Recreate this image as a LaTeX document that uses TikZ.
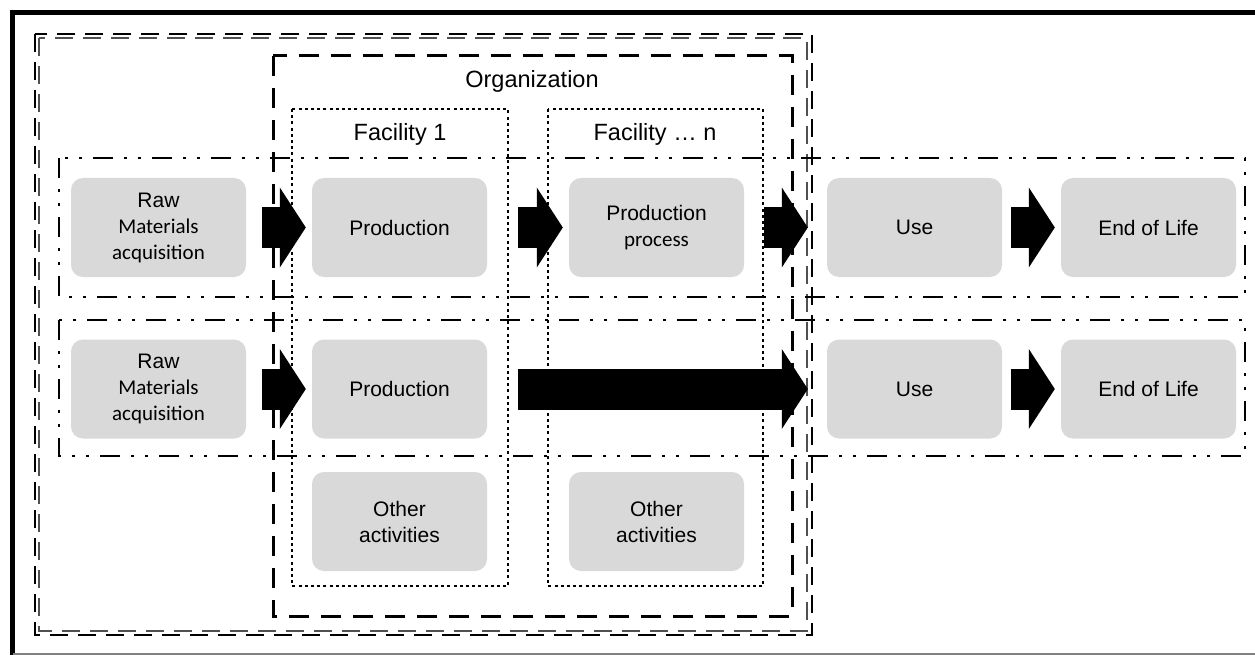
\documentclass[tikz,border=0pt]{standalone}
\usepackage{fontspec}
\setmainfont{Liberation Sans}
\newfontfamily\calfont{Carlito}
\usetikzlibrary{arrows.meta}
\definecolor{boxgray}{HTML}{D9D9D9}
\definecolor{ddgray}{HTML}{505050}
\begin{document}
\begin{tikzpicture}[x=1pt,y=-1pt,
  box/.style={fill=boxgray, rounded corners=12pt, minimum width=175pt, minimum height=99pt,
    inner sep=0pt, align=center, font=\fontsize{21}{26}\selectfont},
  head/.style={anchor=base, font=\fontsize{23.5}{28}\selectfont},
  ddash/.style={line width=1.6pt, dash pattern=on 18pt off 10pt},
  orgdash/.style={line width=3pt, dash pattern=on 20pt off 12pt},
  facdot/.style={line width=2.7pt, dash pattern=on 3pt off 3.2pt},
  rowdd/.style={line width=2.7pt, dash pattern=on 20pt off 11pt on 3pt off 11pt on 3pt off 11pt},
  blk/.style={line width=41pt, -{Triangle[length=26pt,width=80pt,line width=0pt]}}
]
\useasboundingbox (0,0) rectangle (1255,655);
\fill[white] (0,0) rectangle (1255,655);
% frame
\draw[line width=5pt] (12.5,655) -- (12.5,12.5) -- (1255,12.5);
\draw[gray, line width=1.5pt] (12.5,654) -- (1255,654);
% double dashed system boundary
\draw[ddash, black] (35,34) rectangle (812,635);
\draw[ddash, ddgray] (39,38) rectangle (807,631);
% organization
\draw[orgdash] (273,56) rectangle (792,616);
\node[head] (org) at (532,88) {Organization};
% facilities
\draw[facdot] (292,109) rectangle (508,586);
\draw[facdot] (548,109) rectangle (763,586);
\node[head] (fac1) at (400,141) {Facility 1};
\node[head] (facn) at (655,141) {Facility … n};
% rows
\draw[rowdd] (59,158) rectangle (1245,297);
\draw[rowdd] (59,320) rectangle (1245,456);
% boxes row 1
\node[box] (raw1) at (158.5,227.5) {Raw\\{\calfont Materials}\\{\calfont acquisition}};
\node[box] (prod1) at (399.5,227.5) {Production};
\node[box] (pp) at (656.5,227.5) {Production\\{\calfont process}};
\node[box] (use1) at (914.5,227.5) {Use};
\node[box] (eol1) at (1148.5,227.5) {End of Life};
% boxes row 2
\node[box] (raw2) at (158.5,389) {Raw\\{\calfont Materials}\\{\calfont acquisition}};
\node[box] (prod2) at (399.5,389) {Production};
\node[box] (use2) at (914.5,389) {Use};
\node[box] (eol2) at (1148.5,389) {End of Life};
% other activities
\node[box] (oth1) at (399.5,521.5) {Other\\activities};
\node[box] (oth2) at (656.5,521.5) {Other\\activities};
% arrows
\draw[blk, shorten <=16pt, shorten >=6pt] (raw1.east) -- (prod1.west);
\draw[blk, shorten <=31pt, shorten >=6pt] (prod1.east) -- (pp.west);
\draw[blk, shorten <=20pt, shorten >=19pt] (pp.east) -- (use1.west);
\draw[blk, shorten <=9pt, shorten >=6pt] (use1.east) -- (eol1.west);
\draw[blk, shorten <=16pt, shorten >=6pt] (raw2.east) -- (prod2.west);
\draw[blk, shorten <=31pt, shorten >=19pt] (prod2.east) -- (use2.west);
\draw[blk, shorten <=9pt, shorten >=6pt] (use2.east) -- (eol2.west);
\end{tikzpicture}
\end{document}
